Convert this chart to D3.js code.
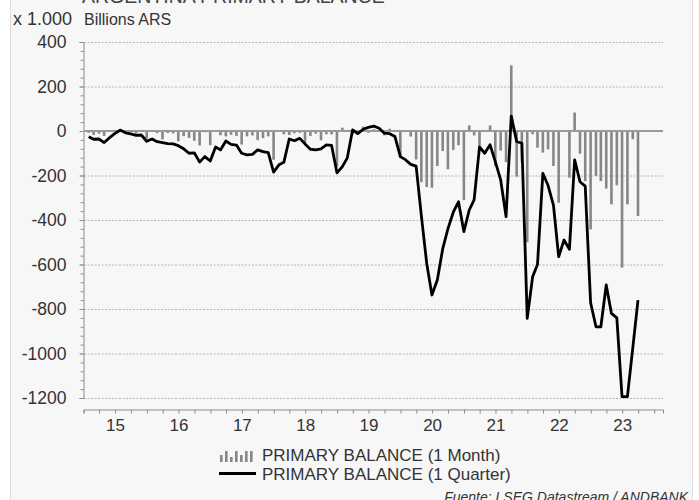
<!DOCTYPE html>
<html>
<head>
<meta charset="utf-8">
<script src="https://cdn.jsdelivr.net/npm/d3@7"></script>
<style>
    body { margin: 0; background: #fff; }
    svg { display: block; font-family: "Liberation Sans", Arial, sans-serif; }
</style>
</head>
<body>
<svg id="chart" width="699" height="500"></svg>
<script>
// monthly data, Jan 2015 .. Sep 2023 (x 1.000 Billions ARS)
const startYear = 2015;

const monthlyBalance = [
    -8, -18, -12, -22, 2, 5, -5, -6, -6, -12, 2, -34,            // 2015
    -4, -10, -38, -9, -11, -46, -23, -31, -44, -65, -6, -64,     // 2016
    -2, -19, -24, -17, -22, -61, -24, -20, -41, -32, -24, -129,  // 2017
    2, -15, -18, -10, -8, -55, -22, -12, -42, -15, -15, -160,    // 2018
    15, 5, -15, 2, 20, -8, 8, 3, -20, 10, -5, -120,              // 2019
    -5, -25, -128, -230, -252, -255, -157, -90, -172, -85, -64, -310, // 2020
    25, -20, -77, -3, 25, -157, -88, -140, 295, -205, -140, -500,     // 2021
    -15, -75, -97, -83, -157, -322, -3, -210, 83, -102, -225, -442,   // 2022
    -202, -225, -259, -330, -244, -614, -330, -37, -382               // 2023
];

const quarterlyBalance = [
    -26, -37, -36, -52, -30, -12, 4, -8, -13, -20, -18, -46,
    -36, -48, -52, -57, -58, -66, -80, -100, -98, -140, -115, -135,
    -72, -85, -45, -60, -63, -100, -107, -105, -85, -93, -97, -185,
    -152, -141, -36, -44, -33, -58, -82, -85, -80, -62, -65, -188,
    -160, -122, 5, -12, 8, 16, 22, 12, -10, -12, -25, -115,
    -130, -150, -158, -380, -595, -737, -670, -530, -440, -365, -318, -452,
    -355, -310, -72, -100, -62, -138, -220, -385, 67, -47, -55, -842,
    -655, -600, -190, -245, -333, -565, -490, -532, -130, -228, -248, -772,
    -880, -880, -692, -820, -840, -1194, -1194, -975, -760
];

const yearLabels = ["15", "16", "17", "18", "19", "20", "21", "22", "23"];
const yTickValues = [400, 200, 0, -200, -400, -600, -800, -1000, -1200];
const gridValues = [400, 200, -200, -400, -600, -800, -1000, -1200];

const legendLabels = ["PRIMARY BALANCE (1 Month)", "PRIMARY BALANCE (1 Quarter)"];

// month end dates
const dates = monthlyBalance.map((d, i) => new Date(startYear, i + 1, 0));

const svg = d3.select("#chart");
const axisColor = "#8c8c8c";
const textColor = "#333";

// panel
svg.append("rect")
    .attr("x", 10.5).attr("y", -5)
    .attr("width", 682).attr("height", 520)
    .attr("fill", "#f7f7f7")
    .attr("stroke", "#dedede");

// title, cut at the top like the original
svg.append("text")
    .attr("x", 82).attr("y", 3)
    .attr("font-size", "19.5px")
    .attr("fill", "#444")
    .text("ARGENTINA PRIMARY BALANCE");

svg.append("text")
    .attr("x", 13).attr("y", 25)
    .attr("font-size", "18px")
    .attr("fill", textColor)
    .text("x 1.000");

svg.append("text")
    .attr("x", 84).attr("y", 25)
    .attr("font-size", "16px")
    .attr("fill", textColor)
    .text("Billions ARS");

const x = d3.scaleTime()
    .domain([new Date(2015, 0, 1), new Date(2024, 1, 21)])
    .range([83.5, 663]);

const y = d3.scaleLinear()
    .domain([-1200, 400])
    .range([398, 42]);

// grid lines
svg.append("g")
    .selectAll("line")
    .data(gridValues)
    .enter().append("line")
    .attr("x1", 84).attr("x2", 663)
    .attr("y1", d => y(d) + 0.5).attr("y2", d => y(d) + 0.5)
    .attr("stroke", "#b4b4b4")
    .attr("stroke-width", 1)
    .attr("stroke-dasharray", "2,1.5");

// minor y ticks
const yMinor = svg.append("g")
    .attr("transform", "translate(83.5,0)")
    .call(d3.axisLeft(y).tickValues(d3.range(-1200, 401, 40)).tickSize(3).tickFormat(""));
yMinor.select(".domain").remove();
yMinor.selectAll("line").attr("stroke", axisColor);

// y axis
const yAxis = svg.append("g")
    .attr("transform", "translate(83.5,0)")
    .call(d3.axisLeft(y).tickValues(yTickValues).tickSize(4).tickPadding(13).tickFormat(d => String(d)));
yAxis.select(".domain").attr("stroke", axisColor);
yAxis.selectAll("line").attr("stroke", axisColor);
yAxis.selectAll("text")
    .attr("font-size", "17.5px")
    .attr("font-family", "'Liberation Sans', Arial, sans-serif")
    .attr("fill", textColor);

// x axis with quarterly ticks
const xAxis = svg.append("g")
    .attr("transform", "translate(0,409.5)")
    .call(d3.axisBottom(x).ticks(d3.timeMonth.every(3)).tickSize(4).tickFormat(""));
xAxis.select(".domain").attr("stroke", axisColor);
xAxis.selectAll("line").attr("stroke", axisColor);

// year labels in the middle of each year
const xLabels = svg.append("g")
    .attr("transform", "translate(0,409.5)")
    .call(d3.axisBottom(x)
        .tickValues(yearLabels.map(l => new Date(2000 + +l, 6, 1)))
        .tickSize(0).tickPadding(9)
        .tickFormat(d3.timeFormat("%y")));
xLabels.select(".domain").remove();
xLabels.selectAll("text")
    .attr("font-size", "17px")
    .attr("font-family", "'Liberation Sans', Arial, sans-serif")
    .attr("fill", textColor);

// monthly bars
const barW = 2.6;
svg.append("g")
    .selectAll("rect")
    .data(monthlyBalance)
    .enter().append("rect")
    .attr("x", (d, i) => x(dates[i]) - barW / 2)
    .attr("y", d => y(Math.max(0, d)))
    .attr("width", barW)
    .attr("height", d => Math.abs(y(d) - y(0)))
    .attr("fill", "#878787");

// zero line
svg.append("line")
    .attr("x1", 84).attr("x2", 663)
    .attr("y1", y(0)).attr("y2", y(0))
    .attr("stroke", "#9a9a9a")
    .attr("stroke-width", 2);

// quarterly line
const line = d3.line()
    .x((d, i) => x(dates[i]))
    .y(d => y(d));

svg.append("path")
    .datum(quarterlyBalance)
    .attr("d", line)
    .attr("fill", "none")
    .attr("stroke", "#000")
    .attr("stroke-width", 2.8)
    .attr("stroke-linejoin", "round");

// legend
const legend = svg.append("g");
const iconBars = [7, 11, 5, 11, 7, 11, 11];
legend.selectAll("rect")
    .data(iconBars)
    .enter().append("rect")
    .attr("x", (d, i) => 220 + i * 5)
    .attr("y", d => 462 - d)
    .attr("width", 2.6)
    .attr("height", d => d)
    .attr("fill", "#878787");

legend.append("line")
    .attr("x1", 219).attr("x2", 256)
    .attr("y1", 473.5).attr("y2", 473.5)
    .attr("stroke", "#000")
    .attr("stroke-width", 3);

legend.selectAll("text")
    .data(legendLabels)
    .enter().append("text")
    .attr("x", 262)
    .attr("y", (d, i) => 461 + i * 18.5)
    .attr("font-size", "17px")
    .attr("fill", textColor)
    .text(d => d);

// source, cut at the bottom like the original
svg.append("text")
    .attr("x", 688).attr("y", 502)
    .attr("text-anchor", "end")
    .attr("font-size", "14px")
    .attr("font-style", "italic")
    .attr("fill", textColor)
    .text("Fuente: LSEG Datastream / ANDBANK");
</script>
</body>
</html>
